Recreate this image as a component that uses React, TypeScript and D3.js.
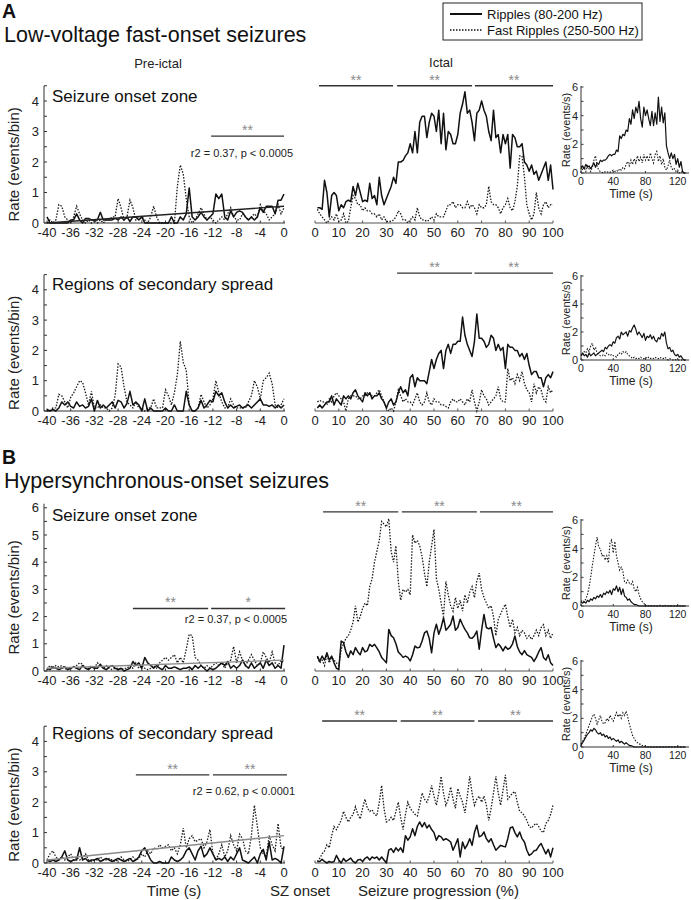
import React from "react";
import * as d3 from "d3";

const FONT = '"Liberation Sans", Arial, Helvetica, sans-serif';

// ---------- x positions of the bins ----------
const preTime = d3.range(81).map((i) => -40 + i * 0.5);
const ictalPct = d3.range(1, 101);
const insetTime = d3.range(66).map((i) => i * 2);

// ---------- tick labels ----------
const preTickLabels = [-40, -36, -32, -28, -24, -20, -16, -12, -8, -4, 0];
const ictalTickLabels = [0, 10, 20, 30, 40, 50, 60, 70, 80, 90, 100];
const insetXTickLabels = [0, 40, 80, 120];
const insetYTickLabels = [0, 2, 4, 6];

// ---------- A1: LVF, seizure onset zone ----------
const a1PreRipples = [
  0.2, 0, 0, 0, 0, 0, 0, 0, 0.1, 0.1,
  0.3, 0.1, 0, 0.15, 0.15, 0.1, 0.1, 0.1, 0.35, 0.1,
  0.1, 0.1, 0.1, 0.15, 0.1, 0.2, 0.1, 0.2, 0.05, 0.2,
  0.2, 0.1, 0.2, 0, 0, 0, 0, 0, 0, 0,
  0, 0, 0.2, 0, 0, 0.2, 0.1, 0.3, 1.15, 0.2,
  0.1, 0.2, 0.35, 0.2, 0.1, 0.2, 0.3, 0.95, 0.8, 0.95,
  0.2, 0.1, 0.4, 0.2, 0.35, 0.4, 0.35, 0.2, 0.1, 0.2,
  0.1, 0.2, 0.5, 0.35, 0.55, 0.55, 0.55, 0.3, 0.75, 0.75,
  0.95,
];
const a1PreFast = [
  0, 0.1, 0, 0.1, 0.6, 0.55, 0.2, 0.1, 0, 0.2,
  0.55, 0.3, 0.1, 0, 0.1, 0, 0.1, 0, 0.1, 0,
  0.1, 0.1, 0.2, 0.2, 0.8, 0.5, 0.1, 0.2, 0.75, 0.5,
  0.1, 0.2, 0.2, 0.1, 0, 0.2, 0.55, 0.2, 0, 0,
  0, 0, 0, 0, 1.2, 1.9, 1.6, 0.8, 0.2, 0,
  0.1, 0.3, 0.5, 0.3, 0.1, 0.2, 0.1, 0, 0.1, 0.2,
  0.1, 0.3, 0.5, 0.2, 0.1, 0.1, 0.3, 0.2, 0.1, 0.2,
  0.3, 0.2, 0.6, 0.4, 0.3, 0.1, 0.2, 0.3, 0.6, 0.3,
  0.5,
];
const a1IctRipples = [
  0.5, 0.5, 0.45, 1.4, 1.0, 0.2, 0.9, 1.0, 0.9, 0.4,
  0.6, 0.5, 0.7, 0.75, 0.7, 1.2, 0.9, 1.3, 1.0, 0.7,
  0.75, 0.7, 1.3, 0.8, 0.9, 0.6, 1.5, 0.9, 0.6, 0.8,
  1.0, 1.2, 1.5, 1.3, 2.0, 2.0, 2.05, 2.2, 2.3, 2.6,
  2.3, 3.0, 2.3, 3.3, 3.5, 3.5, 2.8, 3.3, 3.6, 3.5,
  3.0, 3.7, 2.6, 3.6, 2.4, 3.0, 2.9, 2.6, 2.6, 2.9,
  3.6, 3.9, 4.3, 3.6, 3.7, 3.3, 2.7, 3.6, 3.7, 4.0,
  3.7, 3.5, 3.0, 2.7, 3.7, 2.8, 2.9, 2.3, 2.9, 2.6,
  2.9, 1.8, 2.9, 2.8, 2.5, 2.5, 2.6, 2.0, 1.9, 1.7,
  1.9, 1.6, 1.7, 1.4, 1.6, 1.8, 2.0, 1.4, 1.9, 1.1,
];
const a1IctFast = [
  0.45, 0.3, 0.2, 0.1, 0, 0.1, 0.2, 0.1, 0.3, 0.05,
  0.1, 0.3, 0, 0.05, 0.5, 0.9, 0.8, 0.6, 0.6, 0.4,
  0.5, 0.4, 0.4, 0.3, 0.3, 0.2, 0.3, 0.1, 0.2, 0.05,
  0.05, 0.05, 0.1, 0.2, 0.4, 0.3, 0.1, 0.1, 0, 0.1,
  0.2, 0.1, 0.5, 0.2, 0.1, 0.1, 0.05, 0.1, 0.2, 0.1,
  0.3, 0.2, 0.2, 0.2, 0.4, 0.6, 0.6, 0.7, 0.5, 0.6,
  0.6, 0.5, 0.5, 0.7, 0.5, 0.6, 0.5, 0.3, 0.6, 0.5,
  0.5, 0.6, 1.2, 0.7, 0.6, 0.6, 0.5, 0.3, 0.5, 0.6,
  0.8, 0.5, 0.4, 0.7, 1.2, 2.2, 2.2, 1.5, 0.6, 0.3,
  0.1, 0.3, 1.0, 0.5, 0.3, 0.6, 0.7, 0.5, 0.6, 0.6,
];
const a1InsRipples = [
  0.3, 0.5, 0.3, 0.6, 0.4, 0.5, 0.3, 0.5, 0.7, 0.4,
  0.7, 0.6, 0.9, 0.8, 0.9, 0.9, 1.0, 1.2, 1.3, 1.2,
  1.3, 1.3, 1.6, 1.5, 2.6, 2.4, 2.7, 2.6, 3.0, 2.9,
  3.8, 3.4, 4.4, 3.8, 4.6, 4.2, 5.0, 3.8, 3.2, 4.6,
  4.0, 4.4, 3.8, 3.3, 4.3, 3.3, 4.2, 3.4, 5.3, 3.6,
  4.6, 3.5, 4.2, 1.9, 1.4, 1.0, 1.4, 1.0, 1.3, 0.6,
  1.0, 0.4, 0.8, 0.1, 0, 0,
];
const a1InsFast = [
  0.5, 0.2, 0.4, 0.1, 0.5, 0.3, 0.1, 0.4, 0.9, 1.2,
  0.5, 0.2, 0.1, 0.05, 0, 0.1, 0.05, 0.1, 0.05, 0.1,
  0.2, 0.1, 0.2, 0.1, 0.3, 0.2, 0.4, 0.3, 0.6, 0.8,
  0.5, 0.9, 0.6, 1.0, 0.7, 1.2, 0.8, 1.1, 0.7, 1.3,
  0.9, 1.2, 0.8, 1.4, 1.0, 0.7, 1.3, 1.5, 0.8, 1.2,
  0.6, 1.0, 0.4, 0.2, 0.5, 0.9, 0.4, 0.2, 0.3, 0.1,
  0.2, 0, 0.1, 0, 0, 0,
];

// ---------- A2: LVF, secondary spread ----------
const a2PreRipples = [
  0.05, 0, 0.05, 0, 0.1, 0.3, 0.2, 0.3, 0.15, 0.1,
  0.3, 0.15, 0.2, 0.1, 0.15, 0.4, 0, 0.35, 0.1, 0.2,
  0.1, 0.2, 0.3, 0.1, 0.35, 0.3, 0.1, 0.25, 0.65, 0.2,
  0.3, 0.2, 0, 0.4, 0, 0.1, 0, 0, 0, 0,
  0.1, 0, 0, 0.2, 0, 0, 0, 0.65, 0.2, 0,
  0, 0.1, 0.35, 0.1, 0.2, 0.35, 0.3, 0.65, 0.5, 0.6,
  0.3, 0.1, 0.2, 0.1, 0.15, 0.2, 0.1, 0.15, 0.2, 0.1,
  0.2, 0.3, 0.4, 0.2, 0.2, 0.15, 0.2, 0.1, 0.2, 0.1,
  0.2,
];
const a2PreFast = [
  0, 0, 0.1, 0.1, 0.55, 0.5, 0.3, 0.1, 0.45, 0.6,
  0.8, 1.0, 0.95, 0.6, 0.2, 0.65, 0.1, 0.1, 0.2, 0.1,
  0.1, 0, 0.1, 0.5, 1.55, 1.45, 0.8, 0.3, 0.2, 0.1,
  0.3, 0.1, 0.1, 0, 0.1, 0.1, 0.4, 0.1, 0.1, 0.1,
  0.7, 0.5, 0.2, 0.6, 1.2, 2.3, 1.6, 1.35, 0.2, 0,
  0, 0.1, 0.55, 0.3, 0.1, 0.2, 0.4, 1.0, 0.6, 0.3,
  0.1, 0.1, 0.4, 0.2, 0.1, 0.1, 0.1, 0.1, 0.3, 0.5,
  1.0, 0.8, 0.4, 1.0, 1.1, 1.25, 0.9, 0.2, 0.1, 0.2,
  0.4,
];
const a2IctRipples = [
  0.1, 0.2, 0.1, 0.2, 0.3, 0.3, 0.5, 0.2, 0.4, 0.3,
  0.2, 0.5, 0.4, 0.5, 0.4, 0.6, 0.7, 0.5, 0.4, 0.3,
  0.6, 0.5, 0.6, 0.4, 0.5, 0.5, 0.6, 0.4, 0.3, 0.1,
  0.3, 0.4, 0.2, 0.3, 0.6, 0.8, 0.6, 0.7, 0.5, 1.1,
  1.2, 0.8, 1.1, 1.0, 1.0, 1.0, 0.9, 1.3, 1.7, 1.4,
  1.7, 1.9, 2.0, 1.4, 2.0, 2.2, 1.9, 2.2, 2.2, 2.3,
  2.3, 3.1, 2.5, 2.2, 2.0, 1.8, 2.3, 3.2, 2.4, 2.4,
  2.3, 2.1, 2.2, 2.5, 2.4, 2.0, 2.2, 2.0, 2.1, 1.4,
  2.2, 2.1, 2.1, 2.0, 2.0, 1.8, 1.9, 1.7, 1.9, 1.5,
  1.2, 1.3, 1.3, 1.1, 1.1, 0.8, 1.1, 1.2, 1.1, 1.3,
];
const a2IctFast = [
  0.3, 0.35, 0.3, 0.3, 0.2, 0.4, 0.3, 0.5, 0.6, 0.5,
  0.4, 0.3, 0, 0.4, 0.5, 0.5, 0.5, 0.4, 0.4, 0.5,
  0.5, 0.6, 0.6, 0.5, 0.5, 0.6, 0.7, 0.5, 0.3, 0.1,
  0, 0.1, 0, 0.3, 0.7, 0.5, 0.3, 0.4, 0.3, 0.3,
  0.2, 0.4, 0.6, 0.3, 0.2, 0.3, 0.6, 0.3, 0.2, 0.4,
  0.3, 0.3, 0.2, 0.2, 0.15, 0.1, 0.3, 0.4, 0.3, 0.3,
  0.4, 0.3, 0.2, 0.4, 0.3, 0.7, 0.3, 0, 0.3, 0.7,
  0.5, 0.4, 0.2, 0.3, 0.4, 0.5, 0.8, 0.4, 0.3, 0.3,
  1.4, 1.0, 1.1, 0.9, 1.2, 1.0, 1.3, 0.9, 0.7, 0.6,
  0.3, 0.9, 0.6, 0.8, 0.7, 0.4, 0.3, 0.8, 0.6, 0.7,
];
const a2InsRipples = [
  0.3, 0.5, 0.3, 0.4, 0.2, 0.5, 0.3, 0.4, 0.5, 0.3,
  0.4, 0.5, 0.6, 0.7, 0.6, 0.9, 0.8, 1.0, 1.1, 1.0,
  1.3, 1.2, 1.6, 1.7, 1.5, 2.0, 1.8, 1.9, 2.0, 1.7,
  2.1, 2.0, 2.3, 2.5, 2.2, 1.8, 2.0, 1.8, 1.6, 1.9,
  1.4, 1.7, 1.6, 1.8, 1.5, 1.7, 1.4, 1.3, 1.6, 1.5,
  1.9, 1.7, 2.0, 1.2, 0.8, 0.9, 0.6, 0.7, 0.4, 0.3,
  0.4, 0.2, 0.3, 0.1, 0, 0,
];
const a2InsFast = [
  0.4, 0.3, 0.6, 0.5, 0.8, 0.6, 1.0, 1.2, 0.7, 0.9,
  0.5, 0.4, 0.3, 0.3, 0.4, 0.3, 0.5, 0.4, 0.3, 0.4,
  0.3, 0.3, 0.2, 0.4, 0.5, 0.4, 0.6, 0.5, 0.6, 0.4,
  0.3, 0.2, 0.1, 0.2, 0.1, 0.15, 0.1, 0.2, 0.1, 0.1,
  0.2, 0.1, 0.2, 0.1, 0.15, 0.1, 0.2, 0.1, 0.1, 0.2,
  0.1, 0.1, 0.2, 0.1, 0, 0.1, 0.05, 0, 0.05, 0,
  0, 0, 0, 0, 0, 0,
];

// ---------- B1: hypersynchronous, seizure onset zone ----------
const b1PreRipples = [
  0.1, 0.05, 0.15, 0.1, 0.05, 0.1, 0.15, 0.05, 0.1, 0.15,
  0.1, 0.05, 0.2, 0.1, 0.05, 0.15, 0.1, 0.1, 0.25, 0.1,
  0.05, 0.15, 0.2, 0.1, 0.05, 0.1, 0, 0.05, 0.1, 0.35,
  0.2, 0.3, 0.1, 0.5, 0.3, 0.2, 0.1, 0.2, 0.1, 0.05,
  0.2, 0.1, 0.1, 0.15, 0.1, 0.05, 0.1, 0.1, 0.15, 0.05,
  0.2, 0.1, 0.2, 0.1, 0, 0.1, 0.05, 0.1, 0.2, 0.3,
  0.2, 0.35, 0.1, 0.2, 0.1, 0.2, 0.4, 0.2, 0.1, 0.3,
  0.1, 0.2, 0.3, 0.1, 0.4, 0.2, 0.3, 0.1, 0.2, 0.1,
  0.95,
];
const b1PreFast = [
  0.05, 0.2, 0.1, 0.2, 0.15, 0.2, 0.1, 0.05, 0.1, 0.15,
  0.2, 0.3, 0.25, 0.1, 0.1, 0.2, 0.1, 0.3, 0.2, 0.1,
  0.2, 0.1, 0.05, 0.1, 0.1, 0.05, 0.1, 0.1, 0.2, 0.1,
  0.3, 0.1, 0.2, 0.1, 0.05, 0.1, 0.2, 0.1, 0.3, 0.4,
  0.5, 0.4, 0.5, 0.6, 0.3, 0.5, 0.3, 0.8, 1.35, 1.3,
  0.5, 0.4, 0.2, 0.1, 0.2, 0.1, 0.2, 0.3, 0.2, 0.3,
  0.1, 0.3, 0.4, 0.9, 0.3, 0.7, 0.4, 0.2, 0.4, 0.6,
  0.4, 0.2, 0.3, 0.7, 0.5, 0.3, 0.7, 0.3, 0.2, 0.4,
  0.3,
];
const b1IctRipples = [
  0.55, 0.35, 0.55, 0.4, 0.67, 0.4, 0.55, 0.3, 0.1, 0.06,
  1.1, 1.04, 0.7, 0.5, 0.74, 0.6, 0.86, 0.7, 0.6, 0.86,
  0.7, 0.75, 0.98, 0.9, 0.98, 0.85, 0.7, 0.5, 0.4, 0.3,
  1.53, 1.3, 1.22, 1.0, 0.7, 0.61, 0.5, 0.55, 0.5, 0.37,
  0.6, 0.92, 0.85, 0.87, 1.1, 1.4, 1.47, 1.2, 0.67, 1.4,
  1.72, 1.35, 1.6, 1.96, 1.5, 1.6, 1.72, 2.02, 1.5, 1.6,
  1.9, 1.7, 1.53, 1.4, 1.22, 1.2, 1.3, 1.47, 0.8, 1.5,
  2.08, 1.6, 1.55, 1.6, 1.2, 0.86, 1.0, 0.9, 0.74, 0.9,
  0.8, 0.85, 1.0, 1.29, 0.9, 0.7, 0.6, 0.75, 0.6, 0.55,
  0.5, 0.35, 0.5, 0.7, 0.86, 0.5, 0.4, 0.6, 0.3, 0.2,
];
const b1IctFast = [
  0.5, 0.3, 0.4, 0.2, 0.6, 0.3, 0.5, 0.4, 0.3, 0.2,
  0.8, 1.0, 1.2, 1.3, 1.5, 1.8, 2.4, 1.8, 2.0, 2.3,
  2.5, 2.4, 3.1, 3.4, 4.0, 4.4, 4.8, 5.5, 5.4, 5.3,
  5.6, 4.4, 4.0, 4.6, 3.3, 2.6, 3.0, 2.9, 3.0, 2.8,
  5.0, 4.7, 4.8, 4.6, 4.2, 3.6, 3.1, 4.0, 4.6, 5.2,
  3.4, 3.0, 2.5, 2.0, 3.3, 2.8, 2.4, 2.2, 2.7, 2.3,
  2.6, 2.2, 2.8, 2.5, 2.9, 3.1, 2.7, 3.3, 3.6, 3.0,
  2.7, 2.5, 2.3, 2.4, 2.0, 1.3, 1.9, 2.1, 2.3, 2.45,
  2.0, 1.6, 1.9, 1.4, 1.6, 1.3, 1.5, 1.4, 1.2, 1.3,
  1.16, 1.3, 1.5, 1.3, 1.6, 1.7, 1.3, 1.5, 1.2, 1.4,
];
const b1InsRipples = [
  0.3, 0.2, 0.3, 0.2, 0.4, 0.3, 0.5, 0.4, 0.6, 0.5,
  0.7, 0.6, 0.8, 0.6, 0.9, 0.8, 1.0, 0.9, 1.1, 0.8,
  1.2, 1.1, 1.4, 1.0, 1.3, 0.8, 1.2, 0.7, 0.6, 0.4,
  0.5, 0.3, 0.2, 0.1, 0.1, 0.05, 0, 0, 0, 0,
  0, 0, 0, 0, 0, 0, 0, 0, 0, 0,
  0, 0, 0, 0, 0, 0, 0, 0, 0, 0,
  0, 0, 0, 0, 0, 0,
];
const b1InsFast = [
  0.3, 0.4, 0.3, 0.5, 0.8, 1.3, 2.0, 2.8, 3.5, 4.2,
  4.8, 4.1, 4.0, 3.5, 3.6, 3.2, 3.5, 3.0, 4.4, 4.6,
  3.7, 4.5, 3.5, 3.0, 2.5, 2.7, 2.4, 1.7, 1.6, 1.8,
  1.6, 1.5, 1.7, 1.2, 1.0, 1.3, 0.8, 0.5, 0.3, 0.2,
  0, 0.05, 0, 0.05, 0, 0, 0.05, 0, 0, 0.05,
  0, 0, 0.05, 0, 0, 0.05, 0, 0, 0, 0,
  0, 0, 0, 0, 0, 0,
];

// ---------- B2: hypersynchronous, secondary spread ----------
const b2PreRipples = [
  0.1, 0.05, 0.1, 0.05, 0.1, 0.2, 0.4, 0.1, 0.05, 0.1,
  0.1, 0.5, 0.1, 0.15, 0.05, 0.1, 0.1, 0.15, 0.05, 0.1,
  0.15, 0.1, 0.05, 0.1, 0.15, 0.1, 0.05, 0.1, 0.15, 0.05,
  0.1, 0.2, 0.4, 0.5, 0.3, 0.1, 0, 0, 0.05, 0,
  0, 0, 0.2, 0.1, 0.05, 0.1, 0.2, 0.4, 0.5, 0.3,
  0.1, 0.4, 0.55, 0.2, 0.3, 0.5, 0.3, 0.1, 0.15, 0.1,
  0.2, 0.05, 0.2, 0.1, 0.3, 0.5, 0.1, 0.05, 0, 0.1,
  0.2, 0, 0.3, 0.45, 0.1, 0.7, 0.1, 0.15, 0.1, 0,
  0.55,
];
const b2PreFast = [
  0.1, 0.3, 0.4, 0.2, 0.1, 0.2, 0.1, 0.2, 0.3, 0.1,
  0.2, 0.1, 0.15, 0.3, 0.1, 0.05, 0.1, 0.1, 0.2, 0.1,
  0.1, 0.15, 0.1, 0.05, 0.1, 0.2, 0.1, 0.05, 0.1, 0.2,
  0.1, 0.15, 0.3, 0.2, 0.4, 0.3, 0.5, 0.45, 0.6, 0.5,
  0.55, 0.6, 0.4, 0.5, 0.3, 0.6, 1.15, 0.5, 0.8, 0.9,
  0.7, 0.75, 0.8, 0.5, 0.7, 1.1, 0.3, 0.1, 0.3, 0.6,
  0.2, 0.4, 0.9, 0.6, 0.4, 0.95, 0.8, 0.4, 0.3, 0.9,
  1.9, 1.2, 0.5, 0.3, 0.2, 0.9, 0.6, 0.4, 1.3, 0.5,
  0.45,
];
const b2IctRipples = [
  0.05, 0.05, 0.12, 0.05, 0, 0.05, 0.02, 0.05, 0.25, 0.1,
  0, 0.15, 0.05, 0.1, 0.16, 0.05, 0, 0.1, 0.12, 0.05,
  0.15, 0.2, 0.1, 0.2, 0.15, 0.2, 0.1, 0.2, 0.1, 0,
  0.42, 0.47, 0.35, 0.5, 0.4, 0.5, 0.35, 0.9, 0.75, 0.86,
  1.13, 0.9, 1.2, 1.35, 1.19, 1.33, 1.15, 1.25, 1.1, 1.0,
  0.75, 0.9, 0.86, 0.75, 0.8, 0.75, 0.69, 0.42, 0.6, 0.8,
  0.2, 0.69, 0.47, 0.6, 0.8, 0.58, 1.0, 1.24, 0.86, 0.9,
  1.02, 0.8, 0.69, 0.8, 0.6, 0.42, 0.5, 0.58, 0.55, 0.53,
  0.8, 1.15, 1.19, 1.0, 0.86, 1.02, 0.8, 0.69, 0.42, 0.25,
  0.3, 0.4, 0.42, 0.55, 0.64, 0.47, 0.3, 0.45, 0.2, 0.5,
];
const b2IctFast = [
  0.05, 0.15, 0.3, 0.4, 0.6, 0.5, 0.9, 1.2, 1.1, 1.25,
  1.4, 1.7, 1.5, 1.35, 1.5, 1.6, 1.85, 1.6, 1.45, 1.8,
  2.1, 1.8, 1.7, 1.75, 1.6, 1.55, 2.0, 2.55, 1.8, 1.35,
  1.4, 1.5, 1.4, 1.7, 2.0, 1.5, 1.1, 1.6, 2.0, 1.8,
  1.7, 1.6, 1.55, 1.9, 2.3, 2.1, 2.0, 2.2, 2.55, 2.2,
  1.9, 2.3, 2.85, 2.3, 1.9, 2.1, 2.5, 2.1, 1.8, 2.45,
  2.2, 2.0, 1.65, 2.2, 2.85, 2.3, 1.9, 2.1, 2.2, 2.0,
  2.2, 1.9, 1.4, 1.8, 2.3, 2.85, 2.3, 1.9, 2.4, 2.9,
  2.1, 2.2, 2.3, 2.35, 2.0, 1.7, 1.65, 1.55, 1.4, 1.2,
  1.15, 1.25, 1.3, 1.2, 1.05, 1.0, 1.3, 1.4, 1.6, 1.9,
];
const b2InsRipples = [
  0.1, 0.3, 0.5, 0.7, 0.9, 1.0, 1.2, 1.1, 1.3, 1.2,
  1.0, 0.9, 1.0, 0.8, 0.9, 0.7, 0.8, 0.6, 0.7, 0.5,
  0.6, 0.5, 0.4, 0.5, 0.3, 0.4, 0.3, 0.2, 0.3, 0.2,
  0.1, 0.1, 0.05, 0, 0, 0, 0, 0, 0, 0,
  0, 0, 0, 0, 0, 0, 0, 0, 0, 0,
  0, 0, 0, 0, 0, 0, 0, 0, 0, 0,
  0, 0, 0, 0, 0, 0,
];
const b2InsFast = [
  0.2, 0.4, 0.6, 0.9, 1.2, 1.5, 1.8, 2.1, 2.3, 2.0,
  1.6, 1.9, 2.2, 1.8, 1.6, 1.7, 2.0, 1.8, 2.2, 2.0,
  1.8, 2.1, 2.4, 2.1, 2.3, 2.0, 2.4, 2.2, 2.5, 2.1,
  1.6, 1.2, 0.8, 0.6, 0.4, 0.3, 0.2, 0.2, 0.1, 0.1,
  0.05, 0, 0, 0, 0, 0, 0, 0, 0, 0,
  0, 0, 0, 0, 0, 0, 0, 0, 0, 0,
  0, 0, 0, 0, 0, 0,
];

// ---------- regression fits (value at -40 s, value at 0 s) ----------
const a1Regression = [0.0, 0.55];
const b1Regression = [0.1, 0.4];
const b2Regression = [0.1, 0.9];

// ---------- significance bars ----------
const a1PreSig = [{ from: -12.3, to: 0, label: "**" }];
const b1PreSig = [
  { from: -25.5, to: -12.8, label: "**" },
  { from: -12.3, to: 0.2, label: "*" },
];
const b2PreSig = [
  { from: -25, to: -12.6, label: "**" },
  { from: -12, to: 0.5, label: "**" },
];
const a1IctSig = [
  { from: 1.7, to: 32.8, label: "**" },
  { from: 34.5, to: 66, label: "**" },
  { from: 67.2, to: 100, label: "**" },
];
const a2IctSig = [
  { from: 34.5, to: 66, label: "**" },
  { from: 67, to: 100, label: "**" },
];
const b1IctSig = [
  { from: 3.4, to: 35, label: "**" },
  { from: 36.5, to: 68, label: "**" },
  { from: 69.3, to: 100, label: "**" },
];
const b2IctSig = [
  { from: 3, to: 34.5, label: "**" },
  { from: 36, to: 67, label: "**" },
  { from: 68.5, to: 100, label: "**" },
];

const a1Stat = "r2 = 0.37, p < 0.0005";
const b1Stat = "r2 = 0.37, p < 0.0005";
const b2Stat = "r2 = 0.62, p < 0.0001";

// ---------- layout ----------
const xPre = d3.scaleLinear().domain([-40, 0]).range([47, 284]);
const xIct = d3.scaleLinear().domain([0, 100]).range([315, 553]);
const xIns = d3.scaleLinear().domain([0, 134]).range([581, 689]);
const PRE_AXIS_X = 44;

const rows = [
  {
    base: 223, unit: 30.5, max: 4.5, titleY: 102, sigY: 2.85, statY: 157, statX: 293,
    ictSigY: 4.5, insBase: 173, insTop: 87, regColor: "#222",
    title: "Seizure onset zone", preR: a1PreRipples, preF: a1PreFast, reg: a1Regression,
    preSig: a1PreSig, stat: a1Stat, ictR: a1IctRipples, ictF: a1IctFast, ictSig: a1IctSig,
    insR: a1InsRipples, insF: a1InsFast,
  },
  {
    base: 411, unit: 30.3, max: 4.5, titleY: 290, sigY: 0, statY: 0, statX: 0,
    ictSigY: 4.55, insBase: 360, insTop: 276, regColor: "#888",
    title: "Regions of secondary spread", preR: a2PreRipples, preF: a2PreFast, reg: null,
    preSig: [], stat: null, ictR: a2IctRipples, ictF: a2IctFast, ictSig: a2IctSig,
    insR: a2InsRipples, insF: a2InsFast,
  },
  {
    base: 671, unit: 27.2, max: 6.15, titleY: 521, sigY: 2.3, statY: 623, statX: 287,
    ictSigY: 5.85, insBase: 606, insTop: 520, regColor: "#8a8a8a",
    title: "Seizure onset zone", preR: b1PreRipples, preF: b1PreFast, reg: b1Regression,
    preSig: b1PreSig, stat: b1Stat, ictR: b1IctRipples, ictF: b1IctFast, ictSig: b1IctSig,
    insR: b1InsRipples, insF: b1InsFast,
  },
  {
    base: 863, unit: 30.4, max: 4.5, titleY: 739, sigY: 2.9, statY: 795, statX: 295,
    ictSigY: 4.67, insBase: 747, insTop: 661, regColor: "#8a8a8a",
    title: "Regions of secondary spread", preR: b2PreRipples, preF: b2PreFast, reg: b2Regression,
    preSig: b2PreSig, stat: b2Stat, ictR: b2IctRipples, ictF: b2IctFast, ictSig: b2IctSig,
    insR: b2InsRipples, insF: b2InsFast,
  },
];

function Series({ x, y, xs, ripples, fast, thin }: any) {
  const line = d3
    .line<number>()
    .x((_, i) => x(xs[i]))
    .y((d) => y(d));
  return (
    <g>
      <path d={line(fast) || ""} fill="none" stroke="#1a1a1a" strokeWidth={thin ? 1.1 : 1.3} strokeDasharray="1.5 1.5" />
      <path d={line(ripples) || ""} fill="none" stroke="#111" strokeWidth={thin ? 1.2 : 1.5} strokeLinejoin="round" />
    </g>
  );
}

function SigBars({ x, yPx, bars }: any) {
  return (
    <g>
      {bars.map((b: any, i: number) => (
        <g key={i}>
          <line x1={x(b.from)} x2={x(b.to)} y1={yPx} y2={yPx} stroke="#333" strokeWidth={1.4} />
          <text x={(x(b.from) + x(b.to)) / 2} y={yPx - 1} textAnchor="middle" fontSize={14} fill="#8a8a8a">
            {b.label}
          </text>
        </g>
      ))}
    </g>
  );
}

function Row({ r }: any) {
  const y = d3.scaleLinear().domain([0, r.max]).range([r.base, r.base - r.unit * r.max]);
  const yIns = d3.scaleLinear().domain([0, 6]).range([r.insBase, r.insTop]);
  const minor = d3.range(0, r.max + 0.001, 0.5);
  const major = d3.range(0, Math.floor(r.max) + 1, 1);
  const top = y(r.max);
  return (
    <g>
      {/* ---------- pre-ictal ---------- */}
      <line x1={PRE_AXIS_X} x2={PRE_AXIS_X} y1={r.base} y2={top} stroke="#333" strokeWidth={1} />
      <line x1={PRE_AXIS_X} x2={xPre(0) + 1} y1={r.base} y2={r.base} stroke="#333" strokeWidth={1} />
      {minor.map((v: number) => (
        <line key={v} x1={PRE_AXIS_X} x2={PRE_AXIS_X + 3} y1={y(v)} y2={y(v)} stroke="#333" strokeWidth={1} />
      ))}
      {major.map((v: number) => (
        <text key={v} x={PRE_AXIS_X - 5} y={y(v)} dy="0.35em" textAnchor="end" fontSize={13} fill="#222">
          {v}
        </text>
      ))}
      {preTickLabels.map((v) => (
        <g key={v}>
          <line x1={xPre(v)} x2={xPre(v)} y1={r.base} y2={r.base - 2.5} stroke="#333" />
          <text x={xPre(v)} y={r.base + 14} textAnchor="middle" fontSize={13} fill="#222">
            {v}
          </text>
        </g>
      ))}
      <text
        transform={`translate(19,${(r.base + top) / 2 + 10}) rotate(-90)`}
        textAnchor="middle"
        fontSize={15}
        fill="#222"
      >
        Rate (events/bin)
      </text>
      <text x={52} y={r.titleY} fontSize={17} fill="#111">
        {r.title}
      </text>
      <Series x={xPre} y={y} xs={preTime} ripples={r.preR} fast={r.preF} />
      {r.reg && (
        <line
          x1={xPre(-40)}
          x2={xPre(0)}
          y1={y(r.reg[0])}
          y2={y(r.reg[1])}
          stroke={r.regColor}
          strokeWidth={1.4}
        />
      )}
      {r.preSig.length > 0 && <SigBars x={xPre} yPx={y(r.sigY)} bars={r.preSig} />}
      {r.stat && (
        <text x={r.statX} y={r.statY} textAnchor="end" fontSize={11} fill="#222">
          {r.stat}
        </text>
      )}

      {/* ---------- ictal ---------- */}
      <line x1={xIct(0)} x2={xIct(100)} y1={r.base} y2={r.base} stroke="#555" strokeWidth={1} />
      {ictalTickLabels.map((v) => (
        <g key={v}>
          <line x1={xIct(v)} x2={xIct(v)} y1={r.base} y2={r.base - 2.5} stroke="#555" />
          <text x={xIct(v)} y={r.base + 14} textAnchor="middle" fontSize={13} fill="#222">
            {v}
          </text>
        </g>
      ))}
      <Series x={xIct} y={y} xs={ictalPct} ripples={r.ictR} fast={r.ictF} />
      <SigBars x={xIct} yPx={y(r.ictSigY)} bars={r.ictSig} />

      {/* ---------- inset ---------- */}
      <line x1={xIns(0)} x2={xIns(0)} y1={r.insBase} y2={r.insTop - 1} stroke="#333" />
      <line x1={xIns(0)} x2={xIns(134)} y1={r.insBase} y2={r.insBase} stroke="#333" />
      {d3.range(0, 7).map((v) => (
        <line key={v} x1={xIns(0)} x2={xIns(0) + 2.5} y1={yIns(v)} y2={yIns(v)} stroke="#333" />
      ))}
      {insetYTickLabels.map((v) => (
        <text key={v} x={xIns(0) - 3} y={yIns(v)} dy="0.35em" textAnchor="end" fontSize={11} fill="#222">
          {v}
        </text>
      ))}
      {insetXTickLabels.map((v) => (
        <g key={v}>
          <line x1={xIns(v)} x2={xIns(v)} y1={r.insBase} y2={r.insBase - 2} stroke="#333" />
          <text x={xIns(v)} y={r.insBase + 11.5} textAnchor="middle" fontSize={10.5} fill="#222">
            {v}
          </text>
        </g>
      ))}
      <text x={631} y={r.insBase + 25} textAnchor="middle" fontSize={12} fill="#222">
        Time (s)
      </text>
      <text
        transform={`translate(570,${(r.insBase + r.insTop) / 2}) rotate(-90)`}
        textAnchor="middle"
        fontSize={11}
        fill="#222"
      >
        Rate (events/s)
      </text>
      <Series x={xIns} y={yIns} xs={insetTime} ripples={r.insR} fast={r.insF} thin />
    </g>
  );
}

export default function App() {
  return (
    <svg
      width={691}
      height={900}
      viewBox="0 0 691 900"
      style={{ position: "absolute", left: 0, top: 0, background: "#fff" }}
      fontFamily={FONT}
    >
      <rect x={0} y={0} width={691} height={900} fill="#fff" />
      <text x={2} y={18} fontSize={19.5} fontWeight="bold" fill="#111">A</text>
      <text x={4} y={41.5} fontSize={21.5} fill="#111">Low-voltage fast-onset seizures</text>
      <text x={158} y={68} textAnchor="middle" fontSize={13} fill="#222">Pre-ictal</text>
      <text x={441} y={67} textAnchor="middle" fontSize={13} fill="#222">Ictal</text>

      {/* legend */}
      <rect x={443} y={3} width={199} height={37} fill="#fff" stroke="#222" strokeWidth={1} />
      <line x1={450} x2={482} y1={14} y2={14} stroke="#111" strokeWidth={2} />
      <line x1={450} x2={482} y1={30} y2={30} stroke="#111" strokeWidth={1.3} strokeDasharray="1.5 1.5" />
      <text x={487} y={19} fontSize={13} fill="#111">Ripples (80-200 Hz)</text>
      <text x={487} y={35} fontSize={13} fill="#111">Fast Ripples (250-500 Hz)</text>

      <text x={2} y={464} fontSize={19.5} fontWeight="bold" fill="#111">B</text>
      <text x={4} y={488} fontSize={21.5} fill="#111">Hypersynchronous-onset seizures</text>

      {rows.map((r, i) => (
        <Row key={i} r={r} />
      ))}

      <text x={174} y={896} textAnchor="middle" fontSize={15} fill="#222">Time (s)</text>
      <text x={270} y={896} fontSize={15} fill="#222">SZ onset</text>
      <text x={358} y={896} fontSize={15} fill="#222">Seizure progression (%)</text>
    </svg>
  );
}
